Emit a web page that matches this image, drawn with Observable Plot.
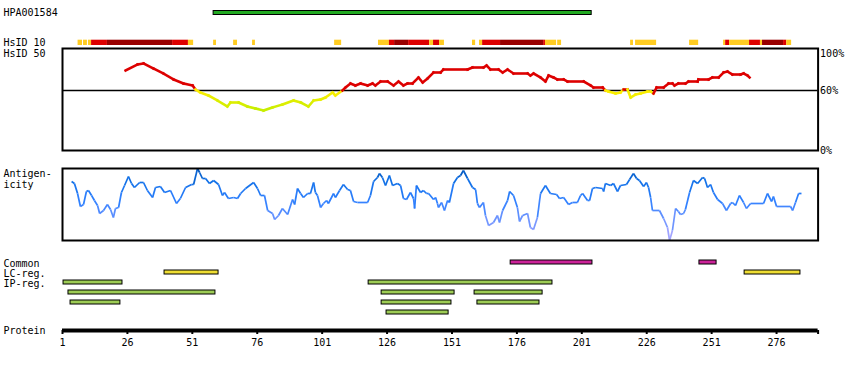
<!DOCTYPE html>
<html><head><meta charset="utf-8">
<script src="https://cdn.jsdelivr.net/npm/d3@7"></script>
<script src="https://cdn.jsdelivr.net/npm/@observablehq/plot@0.6"></script>
<style>
body{margin:0;background:#fff}
#chart{position:relative;width:850px;height:370px;overflow:hidden;background:#fff}
#chart > .layer{position:absolute;left:0}
#chart svg{overflow:visible;display:block}
</style></head><body><div id="chart"></div>
<script>
// ---------- data ----------
const proteinLength = 292;
const antibodyName = "HPA001584";
const antibodyStart = 59.2, antibodyEnd = 204.8;

// HsID 10 blocks (residue start, residue end, identity level)
const hsid10Start = [7,9.1,11,12.2,18.3,43.4,49.5,59.2,66.9,74.2,105.8,122.7,126.9,128.9,134.3,142.4,143.9,146.2,158.9,161.6,162.8,169.7,186.3,187,191.7,219.8,221.7,242.5,255.6,256.4,257.9,265.6,269.8,270.6,278.7,279.9];
const hsid10End   = [8.7,10.6,12.2,18.3,43.4,49.5,51.5,60.3,68.4,75.3,108.5,126.9,128.9,134.3,142.4,143.9,146.2,148.1,160.1,162.8,169.7,186.3,187,191.3,193.2,220.9,229.8,246,256.4,257.9,265.6,269.8,270.6,278.7,279.9,281.8];
const hsid10Level = ["low","low","low","mid","high","mid","low","low","low","low","low","low","mid","high","mid","low","mid","low","low","low","mid","high","mid","low","low","low","low","low","low","mid","low","mid","low","high","mid","low"];

// HsID 50 identity (%)
const hsid50Res = [25.3,29.9,32.2,36.0,39.9,43.8,47.6,51.1,52.2,54.1,57.2,60.7,64.5,65.7,68.8,72.2,75.3,78.4,81.9,85.7,90.0,92.7,95.7,97.7,100.4,102.3,105.0,106.1,108.8,110.0,111.9,113.8,115.8,118.5,120.4,121.5,123.5,126.2,128.5,130.4,132.3,133.9,135.8,138.1,139.7,141.6,143.9,146.6,147.7,157.0,158.9,163.1,164.3,165.8,168.9,170.5,172.4,174.7,180.1,181.2,182.4,185.1,187.0,188.2,190.1,191.6,194.0,195.5,201.7,204.4,205.5,209.0,210.1,211.3,214.0,215.9,217.1,218.6,219.8,221.7,223.6,226.3,227.5,228.6,229.8,232.5,234.4,235.9,236.7,238.2,240.9,242.1,245.6,245.9,249.8,251.3,253.7,255.6,257.1,259.0,262.1,263.3,264.8,265.6];
const hsid50Val = [80,86,87,82,77,71,67,65,61,58,55,50,44,48,48,44,42,40,43,46,50,48,44,50,51,53,58,55,60,63,67,65,67,65,67,65,69,69,65,69,65,67,67,73,68,72,78,78,81,81,83,83,85,81,81,78,81,77,77,75,77,73,69,75,73,71,71,69,69,65,63,63,60,59,57,58,61,61,53,56,57,59,59,57,63,63,67,67,65,67,67,69,69,71,71,73,73,78,79,76,76,77,75,73];

// Antigenicity score
const antiRes = [4.5,5.6,6.8,7.9,9.1,10.2,11.0,12.2,13.3,14.5,15.3,16.8,18.3,19.5,20.6,21.4,22.6,23.7,24.9,26.4,27.6,28.7,30.7,32.2,33.7,35.7,36.8,38.7,40.3,42.6,44.9,46.4,48.4,50.7,51.5,53.0,53.8,54.9,56.1,57.6,59.2,61.1,62.6,63.4,64.9,66.9,68.4,69.6,71.5,74.6,76.1,77.3,78.8,80.0,81.9,82.7,84.2,85.7,87.7,89.6,90.4,91.5,92.7,93.8,95.4,96.5,97.7,98.4,99.2,100.4,101.5,102.7,103.4,105.4,106.1,107.7,109.2,110.8,111.9,113.1,114.6,118.5,119.6,120.8,122.3,123.1,124.2,125.4,126.9,128.1,130.0,131.2,132.3,133.5,135.0,136.2,136.6,137.3,138.9,140.0,141.2,142.0,143.9,144.7,145.4,145.8,147.0,148.1,149.3,150.0,151.6,153.1,154.3,155.4,157.0,158.9,160.1,160.8,161.6,163.1,163.9,165.1,167.0,168.5,169.3,170.5,172.4,173.2,174.7,176.2,177.0,178.2,180.1,181.2,182.4,183.9,185.1,187.0,188.9,191.3,192.4,194.0,195.9,197.4,199.3,200.5,201.3,203.2,204.0,205.1,206.3,209.0,209.4,210.1,212.1,213.2,214.75,215.9,218.2,219.4,220.9,222.1,223.2,224.8,225.9,226.7,227.5,228.2,230.9,232.5,234.0,234.8,235.9,237.1,238.2,239.0,240.2,240.9,242.5,244.0,245.6,247.5,248.3,249.4,250.6,251.7,253.3,255.2,256.7,258.3,259.0,260.2,261.7,263.3,264.4,266.0,271.0,272.5,274.1,274.8,276.0,281.4,282.2,283.3,284.5,285.6];
const antiVal = [59,57,47,34,36,49,50,45,40,35,27,30,36,31,23,32,33,48,55,64,57,53,58,58,50,43,53,54,48,50,37,42,53,56,56,72,68,62,62,57,60,56,45,48,42,43,42,47,52,58,52,45,45,30,27,21,25,32,26,41,36,52,47,43,47,47,58,48,45,33,37,40,37,47,43,50,56,51,50,39,38,38,45,59,63,67,63,55,65,55,57,55,42,41,48,42,32,55,48,50,47,47,41,43,37,33,38,30,40,38,57,63,65,70,62,53,51,37,33,38,25,15,18,25,18,30,40,49,45,33,19,25,27,13,11,23,47,55,47,46,42,43,36,38,38,45,47,40,40,52,53,52,49,57,55,57,49,55,56,61,67,62,60,54,58,53,43,30,30,22,13,0,10,32,29,26,27,31,48,60,57,63,62,53,56,48,41,37,30,37,38,35,45,38,32,37,37,47,39,44,34,34,30,38,47,47];

// Region tracks
const trackRows = ["Common","LC-reg.","IP1","IP2","IP3","IP4"];
const trackLabels = ["Common","LC-reg.","IP-reg."];
const trackLabelRows = ["Common","LC-reg.","IP1"];
const regionRow   = ["Common","Common","LC-reg.","LC-reg.","IP1","IP1","IP2","IP2","IP2","IP3","IP3","IP3","IP4"];
const regionStart = [173.6,246.3,40.3,263.7,1.4,118.9,3.3,123.9,159.7,4.1,123.9,160.8,125.8];
const regionEnd   = [205.1,252.9,61.1,285.2,24.1,189.7,59.9,152.0,185.9,23.3,150.8,184.7,149.7];
const tickValues = [1,26,51,76,101,126,151,176,201,226,251,276];
const identityTicks = [100,60,0];

// ---------- styles ----------
const FONT = "DejaVu Sans Mono";
const levelColor = {low:"#ffcc22", mid:"#dd0000", high:"#990000"};
const regionColor = {"Common":"#cc2299","LC-reg.":"#eedd33"};
const ipColor = "#9dcc55";
const yellowLow = d3.interpolateRgb("#c4ee00", "#ffee00");
function hsColor(v){ return v >= 60 ? "#dd0000" : yellowLow(Math.max(0, Math.min(1, (v-40)/20))); }
const antiColor = d3.scaleLinear().domain([0,20,40,60,72]).range(["#b4aaff","#7095ff","#2f80ff","#1070e6","#0050b0"]).clamp(true);

const chart = document.getElementById("chart");
function base(height, mt, mb, extra){
  return Object.assign({
    width: 850, height, marginLeft: 62, marginRight: 32.4, marginTop: mt, marginBottom: mb,
    x: {domain: [1, proteinLength], axis: null},
    style: {fontFamily: FONT, fontSize: "10px", background: "transparent", overflow: "visible", color: "black"}
  }, extra);
}
function place(plot, top){
  const d = document.createElement("div");
  d.className = "layer"; d.style.top = top + "px";
  d.appendChild(plot); chart.appendChild(d);
}
const leftLabel = (text, opts) => Plot.text([text], Object.assign({frameAnchor: "left", dx: -59, textAnchor: "start", fontFamily: FONT, fontSize: 10, fill: "black"}, opts));

// antibody bar
place(Plot.plot(base(7, 1.5, 1.5, {
  marks: [
    Plot.barX([{s: antibodyStart, e: antibodyEnd}], {x1: "s", x2: "e", fill: "#22aa22", stroke: "black", strokeWidth: 1}),
    leftLabel(antibodyName)
  ]
})), 9);

// HsID 10
const hsid10 = hsid10Start.map((s, i) => ({s, e: hsid10End[i], c: levelColor[hsid10Level[i]]}));
place(Plot.plot(base(9, 1.7, 2, {
  color: {type: "identity"},
  marks: [
    Plot.barX(hsid10, {x1: "s", x2: "e", fill: "c"}),
    leftLabel("HsID 10")
  ]
})), 38);

// HsID 50
const hsPts = hsid50Res.map((r, i) => ({r, v: hsid50Val[i]}));
const hsSegs = d3.pairs(hsPts).map(([a, b]) => ({x1: a.r, y1: a.v, x2: b.r, y2: b.v, c: hsColor((a.v + b.v) / 2)}));
place(Plot.plot(base(106, 2, 2, {
  y: {domain: [0, 102], axis: null},
  color: {type: "identity"},
  marks: [
    Plot.ruleY([60], {stroke: "black", strokeWidth: 1.3}),
    Plot.link(hsSegs, {x1: "x1", y1: "y1", x2: "x2", y2: "y2", stroke: "c", strokeWidth: 2.6, strokeLinecap: "square"}),
    Plot.frame({stroke: "black", strokeWidth: 2}),
    Plot.text(identityTicks.filter(t => t === 100), {y: d => d, text: d => d + "%", frameAnchor: "right", dx: 2, dy: 3, textAnchor: "start", fontFamily: FONT, fontSize: 10}),
    Plot.text(identityTicks.filter(t => t !== 100), {y: d => d, text: d => d + "%", frameAnchor: "right", dx: 2, textAnchor: "start", fontFamily: FONT, fontSize: 10}),
    Plot.text(["HsID 50"], {y: 100, frameAnchor: "left", dx: -59, dy: 3, textAnchor: "start", fontFamily: FONT, fontSize: 10})
  ]
})), 46);

// Antigenicity
const anPts = antiRes.map((r, i) => ({r, v: antiVal[i]}));
const anSegs = d3.pairs(anPts).map(([a, b]) => ({x1: a.r, y1: a.v, x2: b.r, y2: b.v, c: antiColor((a.v + b.v) / 2)}));
place(Plot.plot(base(76, 2, 2, {
  y: {domain: [0, 72], axis: null},
  color: {type: "identity"},
  marks: [
    Plot.link(anSegs, {x1: "x1", y1: "y1", x2: "x2", y2: "y2", stroke: "c", strokeWidth: 1.7}),
    Plot.frame({stroke: "black", strokeWidth: 2}),
    Plot.text(["Antigen-\nicity"], {frameAnchor: "top-left", dx: -59, dy: 1.5, textAnchor: "start", lineAnchor: "top", lineHeight: 1.05, fontFamily: FONT, fontSize: 10})
  ]
})), 166);

// Region tracks
const regions = regionRow.map((row, i) => ({row, s: regionStart[i], e: regionEnd[i], c: regionColor[row] || ipColor}));
place(Plot.plot(base(60, 0, 0, {
  y: {type: "band", domain: trackRows, padding: 0, axis: null},
  color: {type: "identity"},
  marks: [
    Plot.barX(regions, {x1: "s", x2: "e", y: "row", fill: "c", stroke: "black", strokeWidth: 1, insetTop: 3, insetBottom: 3}),
    Plot.text(trackLabels, {y: (d, i) => trackLabelRows[i], text: d => d, frameAnchor: "left", dx: -59, dy: 1, textAnchor: "start", fontFamily: FONT, fontSize: 10})
  ]
})), 257);

// Protein axis
place(Plot.plot(base(40, 0, 0, {
  y: {domain: [0, 1], range: [10, 14], axis: null},
  marks: [
    Plot.ruleY([0], {x1: 1, x2: proteinLength, stroke: "black", strokeWidth: 4}),
    Plot.ruleX(tickValues.concat([proteinLength]), {x: d => d, y1: 0, y2: 1, stroke: "black", strokeWidth: 2}),
    Plot.text(tickValues, {x: d => d, y: 1, dy: 8, text: d => String(d), fontFamily: FONT, fontSize: 10}),
    Plot.text(["Protein"], {y: 0, frameAnchor: "left", dx: -59, textAnchor: "start", fontFamily: FONT, fontSize: 10})
  ]
})), 320);
</script></body></html>
